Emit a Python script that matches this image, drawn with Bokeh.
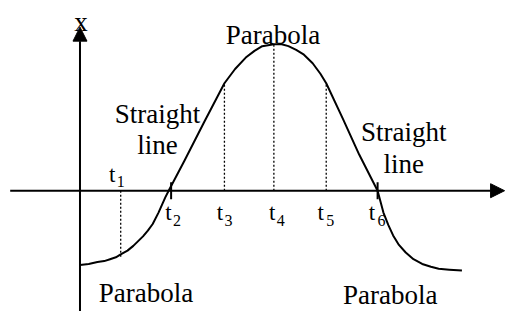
from bokeh.plotting import figure
from bokeh.models import Range1d, Arrow, NormalHead, ColumnDataSource
from bokeh.core.properties import value
from bokeh.embed import file_html
from bokeh.resources import INLINE

# ---- data (time on the horizontal axis, x on the vertical) ----
curve_t = [1, 10, 19, 26, 32, 38, 43, 50, 56, 61, 66, 71, 76, 82, 89, 93, 109, 129, 150,
           161, 172, 181, 189, 201, 209, 216, 224, 232, 241, 249, 255, 272, 289, 308,
           314, 319, 324, 330, 337, 345, 354, 363, 371, 382, 395]
curve_x = [-78, -77, -75, -74, -72, -70, -67, -63, -58, -53, -48, -42, -35, -23, -7, 1,
           32, 72, 113, 128, 140, 147, 152, 154, 154, 152, 148, 143, 134, 123, 113, 76,
           38, 0, -23, -36, -47, -57, -65, -72, -77, -80, -82, -83, -84]

event_names = ["1", "2", "3", "4", "5", "6"]
event_t = [43, 95, 150, 201, 255, 308]
event_x = [-70, 0, 113, 154, 113, 0]   # curve height at each event time

segment_labels = ["Parabola", "Straight", "line", "Straight", "line", "Parabola", "Parabola"]
axis_label = "x"

# ---- figure ----
p = figure(width=507, height=311, x_range=Range1d(-81, 442), y_range=Range1d(-127, 200),
           output_backend="svg", toolbar_location=None, min_border=0)
p.axis.visible = False
p.grid.visible = False
p.outline_line_color = None
p.background_fill_color = "white"

FONT = value("Liberation Serif")

# axes with arrowheads
p.add_layout(Arrow(end=NormalHead(size=14, fill_color="black", line_color="black", line_width=1),
                   x_start=-71, y_start=0, x_end=439, y_end=0, line_width=2, line_color="black"))
p.add_layout(Arrow(end=NormalHead(size=14, fill_color="black", line_color="black", line_width=1),
                   x_start=1, y_start=-140, x_end=1, y_end=172, line_width=2, line_color="black"))

# curve
p.line(curve_t, curve_x, line_color="black", line_width=2, line_join="round")

# dotted drop lines at t1, t3, t4, t5
for i in [0, 2, 3, 4]:
    p.line([event_t[i], event_t[i]], [0, event_x[i]], line_color="black",
           line_width=1.3, line_dash="2 2")

# tick marks at zero crossings t2 and t6
for i in [1, 5]:
    p.line([event_t[i], event_t[i]], [-9, 9], line_color="black", line_width=2)

# event labels t_i with subscripts
t_dx = [-12, -6, -8, -5, -9, -9]
t_base = [17, -23, -23, -23, -23, -23]
s_dx = [-4, 2, 0, 3, 0, 0]
s_base = [10, -31, -31, -31, -31, -31]
src_t = ColumnDataSource(dict(x=[t + d for t, d in zip(event_t, t_dx)], y=t_base,
                              text=["t"] * len(event_t)))
src_s = ColumnDataSource(dict(x=[t + d for t, d in zip(event_t, s_dx)], y=s_base,
                              text=event_names))
p.text(x="x", y="y", text="text", source=src_t, text_font=FONT, text_font_size="23px",
       text_align="left", text_baseline="alphabetic", text_color="black")
p.text(x="x", y="y", text="text", source=src_s, text_font=FONT, text_font_size="16px",
       text_align="left", text_baseline="alphabetic", text_color="black")

# segment labels
lab_x = [200, 81, 81, 335, 335, 69, 321]
lab_y = [164, 81, 48, 62, 28, -108, -110]
p.text(x=lab_x, y=lab_y, text=segment_labels, text_font=FONT, text_font_size="27px",
       text_align="center", text_baseline="alphabetic", text_color="black")

# axis label
p.text(x=[2], y=[177], text=[axis_label], text_font=FONT, text_font_size="27px",
       text_align="center", text_baseline="alphabetic", text_color="black")

open("out.html", "w").write(file_html(p, INLINE))
